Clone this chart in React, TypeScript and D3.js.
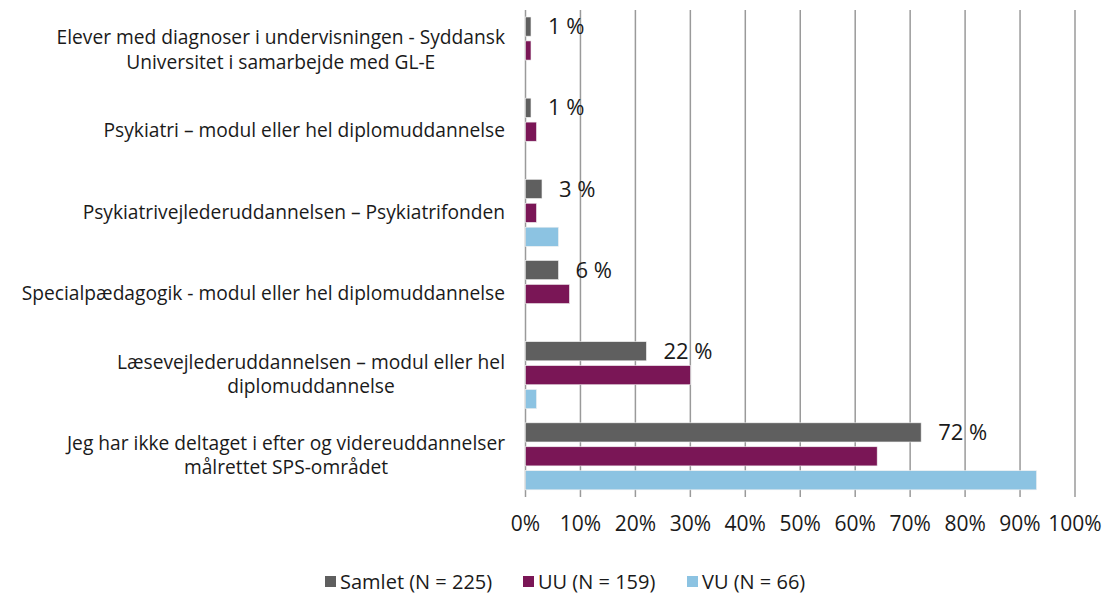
import React, { useEffect, useRef } from "react";
import * as d3 from "d3";

const categories: string[][] = [
  ["Elever med diagnoser i undervisningen - Syddansk", "Universitet i samarbejde med GL-E"],
  ["Psykiatri – modul eller hel diplomuddannelse"],
  ["Psykiatrivejlederuddannelsen – Psykiatrifonden"],
  ["Specialpædagogik - modul eller hel diplomuddannelse"],
  ["Læsevejlederuddannelsen – modul eller hel", "diplomuddannelse"],
  ["Jeg har ikke deltaget i efter og videreuddannelser", "målrettet SPS-området"],
];
const seriesNames = ["Samlet (N = 225)", "UU (N = 159)", "VU (N = 66)"];
const seriesColors = ["#5f5f5f", "#7a1656", "#8cc3e2"];
const samlet = [1, 1, 3, 6, 22, 72];
const uu = [1, 2, 2, 8, 30, 64];
const vu = [0, 0, 6, 0, 2, 93];
const dataLabels = ["1 %", "1 %", "3 %", "6 %", "22 %", "72 %"];
const xTicks = [0, 10, 20, 30, 40, 50, 60, 70, 80, 90, 100];

const FONT = "'Open Sans', 'Noto Sans', sans-serif";

export default function App() {
  const ref = useRef<SVGSVGElement>(null);
  useEffect(() => {
    const svg = d3.select(ref.current);
    svg.selectAll("*").remove();
    const x = d3.scaleLinear().domain([0, 100]).range([525.5, 1075]);
    const y = d3.scaleBand<number>().domain(d3.range(categories.length)).range([10, 497]).padding(0);
    const inner = d3.scaleBand<number>().domain([0, 1, 2]).range([7, 74]).paddingInner(0.2);
    const series = [samlet, uu, vu];

    // gridlines
    svg.append("g").selectAll("line").data(xTicks).join("line")
      .attr("x1", d => x(d)).attr("x2", d => x(d))
      .attr("y1", 10).attr("y2", 497)
      .attr("stroke", "#9a9a9a").attr("stroke-width", 1.5);

    // bars
    series.forEach((vals, si) => {
      svg.append("g").selectAll("rect").data(vals).join("rect")
        .attr("x", x(0))
        .attr("y", (_, i) => (y(i) as number) + (inner(si) as number))
        .attr("width", d => x(d) - x(0))
        .attr("height", inner.bandwidth())
        .attr("fill", seriesColors[si])
        .attr("stroke", d => (d > 0 ? "#f0f0f0" : "none"))
        .attr("stroke-width", 0.6);
    });

    // data labels
    svg.append("g").selectAll("text").data(samlet).join("text")
      .attr("x", d => x(d) + 17)
      .attr("y", (_, i) => (y(i) as number) + (inner(0) as number) + inner.bandwidth() / 2)
      .attr("dy", "0.35em")
      .attr("font-family", FONT).attr("font-size", 22).attr("fill", "#1a1a1a")
      .text((_, i) => dataLabels[i]);

    // category labels
    const catG = svg.append("g");
    categories.forEach((lines, i) => {
      const cy = (y(i) as number) + y.bandwidth() / 2;
      const lh = 24.5;
      const texts = lines.map((l, li) =>
        catG.append("text")
          .attr("font-family", FONT).attr("font-size", 19.2).attr("fill", "#1a1a1a")
          .attr("y", cy + (li - (lines.length - 1) / 2) * lh - 1)
          .attr("dy", "0.35em")
          .attr("text-anchor", "middle")
          .text(l)
      );
      const maxW = d3.max(texts, t => (t.node() as SVGTextElement).getComputedTextLength()) || 0;
      texts.forEach(t => t.attr("x", 505 - maxW / 2));
    });

    // x tick labels
    svg.append("g").selectAll("text").data(xTicks).join("text")
      .attr("x", d => x(d)).attr("y", 524).attr("dy", "0.35em")
      .attr("text-anchor", "middle")
      .attr("font-family", FONT).attr("font-size", 21).attr("fill", "#1a1a1a")
      .text(d => `${d}%`);

    // legend
    const legendX = [325, 523, 687];
    const lg = svg.append("g");
    seriesNames.forEach((n, i) => {
      lg.append("rect").attr("x", legendX[i]).attr("y", 576).attr("width", 11).attr("height", 11).attr("fill", seriesColors[i]);
      lg.append("text").attr("x", legendX[i] + 15).attr("y", 582).attr("dy", "0.35em")
        .attr("font-family", FONT).attr("font-size", 20).attr("fill", "#1a1a1a").text(n);
    });
  }, []);
  return (
    <svg ref={ref} width={1119} height={597}
      style={{ position: "absolute", left: 0, top: 0, background: "#fff" }} />
  );
}
